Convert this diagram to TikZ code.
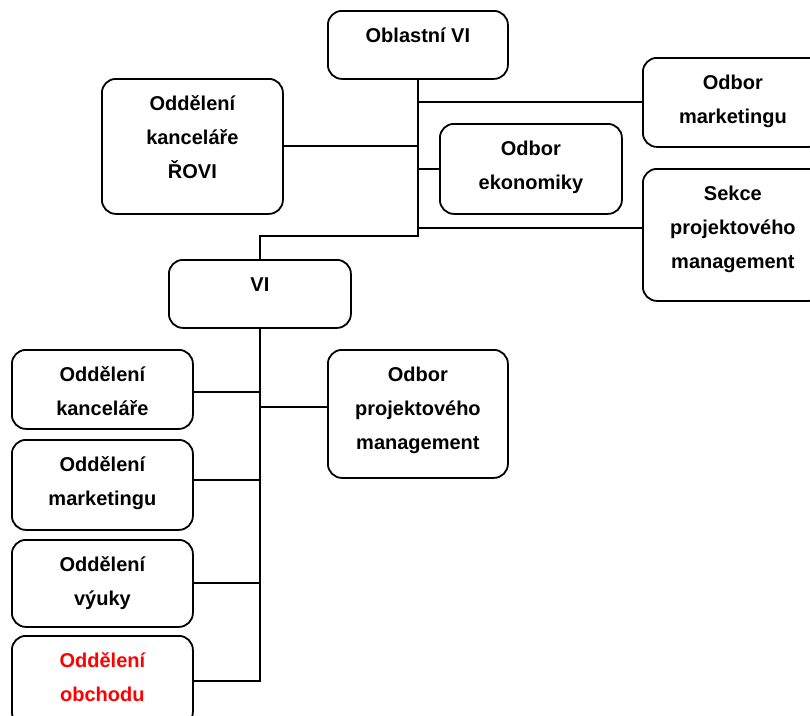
\documentclass[tikz,border=0pt]{standalone}
\usepackage{fontspec}
\setmainfont{Liberation Sans}
\usetikzlibrary{calc}
% stacked, centred lines whose baseline is the first line
\newcommand\boxtext[1]{\begin{tabular}[t]{@{}c@{}}#1\end{tabular}}
\begin{document}
\begin{tikzpicture}[x=1pt,y=-1pt,
  orgbox/.style={draw, line width=1.8pt, rounded corners=14pt, anchor=north west,
    inner xsep=0pt, inner ysep=0pt, minimum width=180pt, text height=32pt,
    font=\fontsize{20}{34}\selectfont\bfseries},
  link/.style={line width=2pt}]
\useasboundingbox (0,0) rectangle (810,715);
\clip (0,0) rectangle (810,715);

% upper level
\node[orgbox, text depth=36pt] (obl) at (327,10) {\boxtext{Oblastní VI}};
\node[orgbox, text depth=57pt] (omkt) at (642,57) {\boxtext{Odbor\\marketingu}};
\node[orgbox, minimum width=181pt, text depth=103pt] (rovi) at (101,78) {\boxtext{Oddělení\\kanceláře\\ŘOVI}};
\node[orgbox, minimum width=182pt, text depth=58pt] (oeko) at (439,123) {\boxtext{Odbor\\ekonomiky}};
\node[orgbox, text depth=100pt] (sekce) at (642,168) {\boxtext{Sekce\\projektového\\management}};

% lower level
\node[orgbox, minimum width=182pt, text depth=36pt] (vi) at (168,259) {\boxtext{VI}};
\node[orgbox, minimum width=181pt, text depth=47pt] (okanc) at (11,349) {\boxtext{Oddělení\\kanceláře}};
\node[orgbox, text depth=96pt] (oproj) at (327,349) {\boxtext{Odbor\\projektového\\management}};
\node[orgbox, minimum width=181pt, text depth=58pt] (omark) at (11,439) {\boxtext{Oddělení\\marketingu}};
\node[orgbox, minimum width=181pt, text depth=55pt] (ovyuk) at (11,539) {\boxtext{Oddělení\\výuky}};
\node[orgbox, minimum width=181pt, text depth=58pt, text=red] (oobch) at (11,635) {\boxtext{Oddělení\\obchodu}};

% upper trunk
\coordinate (j1) at (obl.south |- 0,236);
\draw[link] (obl.south) -- (j1) -| (vi.north);
\draw[link] (omkt.west) -- (omkt.west -| obl.south);
\draw[link] (rovi.east) -- (rovi.east -| obl.south);
\draw[link] (oeko.west) -- (oeko.west -| obl.south);
\coordinate (sk) at ($(sekce.west)+(0,-7)$);
\draw[link] (sk) -- (sk -| obl.south);

% lower trunk
\draw[link] (vi.south) |- (oobch.east);
\coordinate (kc) at ($(okanc.east)+(0,2.5)$);
\draw[link] (kc) -- (kc -| vi.south);
\coordinate (pj) at ($(oproj.west)+(0,-7)$);
\draw[link] (pj) -- (pj -| vi.south);
\coordinate (mk) at ($(omark.east)+(0,-5)$);
\draw[link] (mk) -- (mk -| vi.south);
\draw[link] (ovyuk.east) -- (ovyuk.east -| vi.south);
\end{tikzpicture}
\end{document}
